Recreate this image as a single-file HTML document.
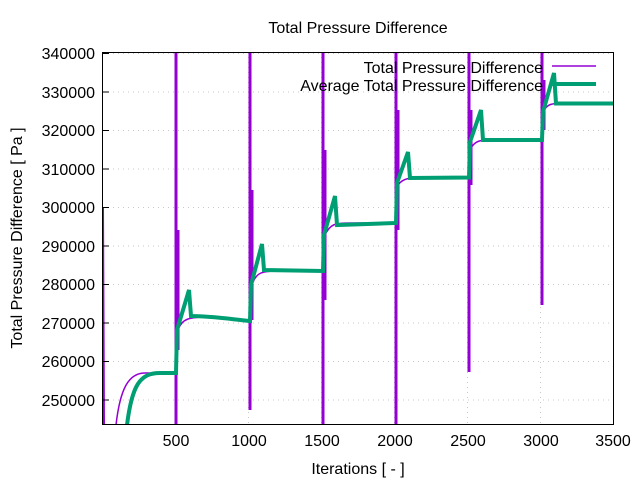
<!DOCTYPE html>
<html><head><meta charset="utf-8"><style>body{margin:0;background:#fff}svg{display:block}text{font-family:"Liberation Sans",sans-serif;font-size:16px;fill:#000}</style></head><body>
<svg width="640" height="480" viewBox="0 0 640 480">
<defs><clipPath id="c"><rect x="102.5" y="52" width="511.5" height="373"/></clipPath></defs>
<g stroke="#c8c8c8" stroke-dasharray="1,4" stroke-width="1">
<line x1="103" x2="613" y1="53.5" y2="53.5"/><line x1="103" x2="613" y1="92" y2="92"/><line x1="103" x2="613" y1="130.5" y2="130.5"/><line x1="103" x2="613" y1="169" y2="169"/><line x1="103" x2="613" y1="207.5" y2="207.5"/><line x1="103" x2="613" y1="246" y2="246"/><line x1="103" x2="613" y1="284.5" y2="284.5"/><line x1="103" x2="613" y1="323" y2="323"/><line x1="103" x2="613" y1="361.5" y2="361.5"/><line x1="103" x2="613" y1="400" y2="400"/>
<line y1="52" y2="425" x1="175.5" x2="175.5"/><line y1="52" y2="425" x1="248.5" x2="248.5"/><line y1="52" y2="425" x1="321.5" x2="321.5"/><line y1="52" y2="425" x1="394.5" x2="394.5"/><line y1="52" y2="425" x1="467.5" x2="467.5"/><line y1="52" y2="425" x1="540.5" x2="540.5"/>
</g>
<g clip-path="url(#c)">
<g stroke="#9400d3" fill="none" stroke-width="1.5">
<path d="M116,425 C120,390 128,373 145,373 L176,373 L178,330 C182,318 190,317 210,317 C230,317 240,320 250,321 L252,285 C256,272 262,271 280,271 L323,271 L325,235 C330,224 335,223 350,223 L396,223 L398,185 C403,178 410,177.5 425,177.5 L469,177.5 L471,148 C475,141 480,140 490,140 L542,140 L544,110 C548,104 552,103.5 560,103.5 L614,103.5"/>
<path d="M103,425 L103,207 L104,425" stroke-width="2"/>
<g stroke-width="3">
<line x1="176" x2="176" y1="50" y2="425"/><line x1="178" x2="178" y1="230" y2="350"/>
<line x1="250" x2="250" y1="50" y2="410"/><line x1="252" x2="252" y1="190" y2="320"/>
<line x1="323" x2="323" y1="50" y2="425"/><line x1="325" x2="325" y1="150" y2="300"/>
<line x1="396" x2="396" y1="50" y2="425"/><line x1="398" x2="398" y1="110" y2="230"/>
<line x1="469" x2="469" y1="50" y2="372"/><line x1="471" x2="471" y1="110" y2="185"/>
<line x1="542" x2="542" y1="50" y2="305"/><line x1="544" x2="544" y1="80" y2="130"/>
</g></g>
<path fill="none" stroke="#009e73" stroke-width="4" stroke-linejoin="miter" d="M127,425 C132,385 140,373 160,373 L176,373 L177,330 L189,290 L191,316 C210,316 230,319 250,321 L251,285 L262,244 L264,270 L323,271 L324,235 L335,196 L337,225 L396,223 L397,183 L408,152 L410,178 L469,177.5 L470,142 L481,110 L483,140 L542,140 L543,112 L554,73 L556,103.5 L614,103.5"/>
</g>
<rect x="102.5" y="52.5" width="511" height="372" fill="none" stroke="#000" stroke-width="1"/>
<g stroke="#000"><line x1="103" x2="109" y1="53.5" y2="53.5"/><line x1="103" x2="109" y1="92" y2="92"/><line x1="103" x2="109" y1="130.5" y2="130.5"/><line x1="103" x2="109" y1="169" y2="169"/><line x1="103" x2="109" y1="207.5" y2="207.5"/><line x1="103" x2="109" y1="246" y2="246"/><line x1="103" x2="109" y1="284.5" y2="284.5"/><line x1="103" x2="109" y1="323" y2="323"/><line x1="103" x2="109" y1="361.5" y2="361.5"/><line x1="103" x2="109" y1="400" y2="400"/></g>
<g text-anchor="end">
<text x="95" y="59">340000</text><text x="95" y="98">330000</text><text x="95" y="136">320000</text><text x="95" y="175">310000</text><text x="95" y="213">300000</text><text x="95" y="252">290000</text><text x="95" y="290">280000</text><text x="95" y="329">270000</text><text x="95" y="367">260000</text><text x="95" y="406">250000</text>
</g>
<g text-anchor="middle">
<text x="176" y="446">500</text><text x="249" y="446">1000</text><text x="322" y="446">1500</text><text x="395" y="446">2000</text><text x="468" y="446">2500</text><text x="541" y="446">3000</text><text x="613" y="446">3500</text>
<text x="358" y="474">Iterations [ - ]</text>
<text x="358" y="33">Total Pressure Difference</text>
<text transform="translate(22,238) rotate(-90)">Total Pressure Difference [ Pa ]</text>
</g>
<g text-anchor="end"><text x="543" y="73">Total Pressure Difference</text><text x="543" y="91">Average Total Pressure Difference</text></g>
<line x1="552" x2="596" y1="66" y2="66" stroke="#9400d3" stroke-width="1.5"/>
<line x1="552" x2="596" y1="84" y2="84" stroke="#009e73" stroke-width="4"/>
</svg>
</body></html>
